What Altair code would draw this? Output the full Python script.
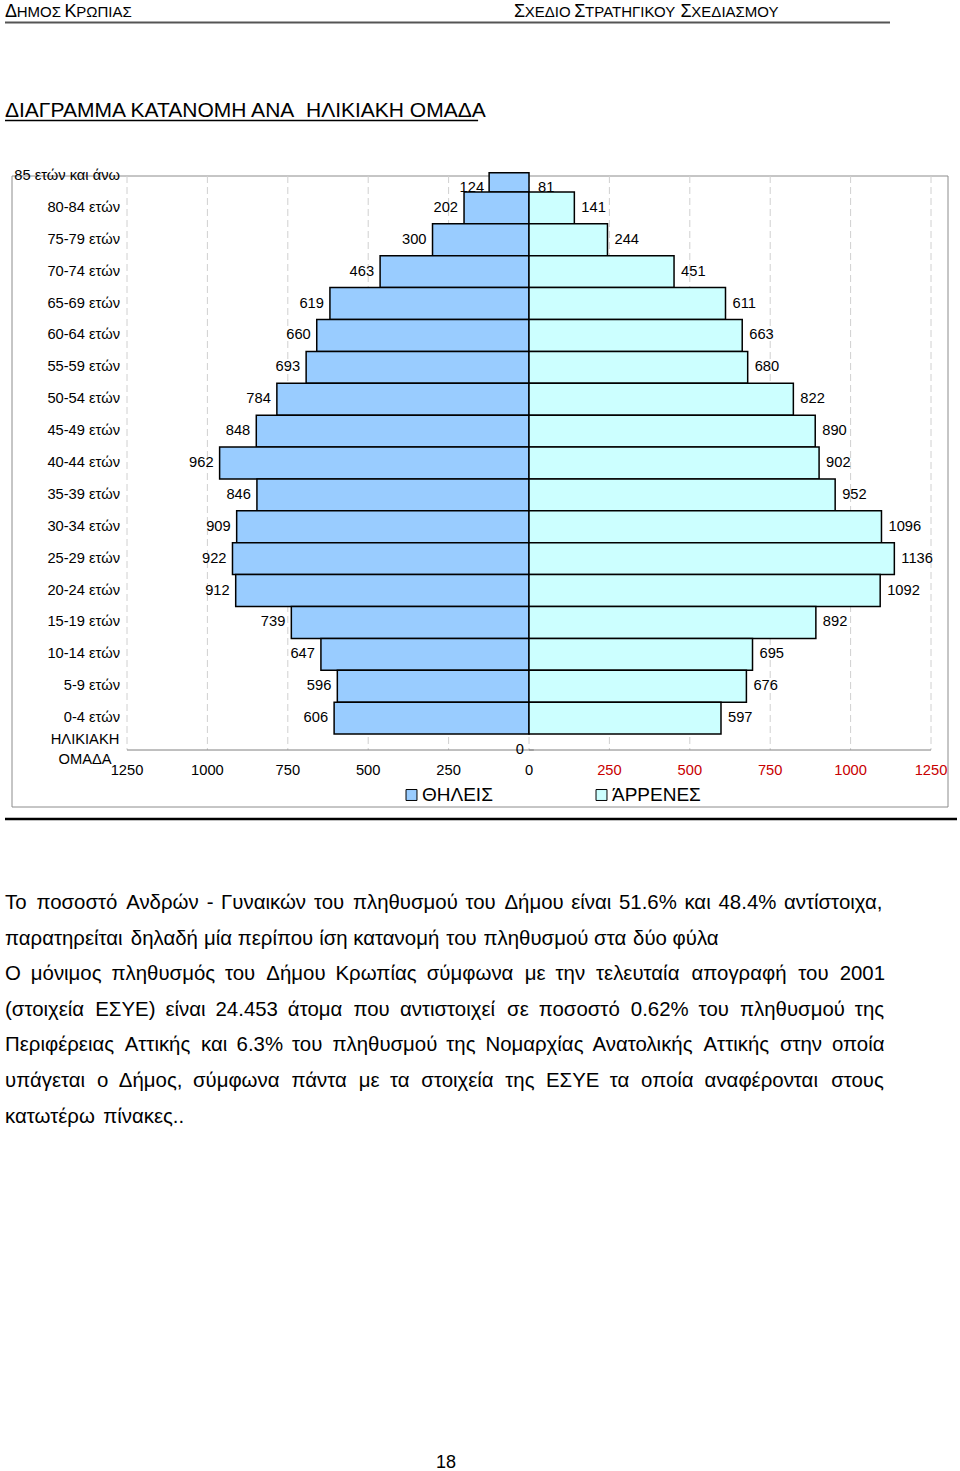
import altair as alt
import pandas as pd

# ---------------- data ----------------
age_groups = ["85 ετών και άνω", "80-84 ετών", "75-79 ετών", "70-74 ετών", "65-69 ετών",
              "60-64 ετών", "55-59 ετών", "50-54 ετών", "45-49 ετών", "40-44 ετών",
              "35-39 ετών", "30-34 ετών", "25-29 ετών", "20-24 ετών", "15-19 ετών",
              "10-14 ετών", "5-9 ετών", "0-4 ετών"]
female = [124, 202, 300, 463, 619, 660, 693, 784, 848, 962, 846, 909, 922, 912, 739, 647, 596, 606]
male = [81, 141, 244, 451, 611, 663, 680, 822, 890, 902, 952, 1096, 1136, 1092, 892, 695, 676, 597]
axis_title = "ΗΛΙΚΙΑΚΗ\nΟΜΑΔΑ"
base_value = 0
x_ticks = [-1250, -1000, -750, -500, -250, 0, 250, 500, 750, 1000, 1250]
legend_labels = ["ΘΗΛΕΙΣ", "ΆΡΡΕΝΕΣ"]
bar_colors = ["#99CCFF", "#CCFFFF"]

header_left = "ΔΗΜΟΣ ΚΡΩΠΙΑΣ"
header_right = "ΣΧΕΔΙΟ ΣΤΡΑΤΗΓΙΚΟΥ ΣΧΕΔΙΑΣΜΟΥ"
title_text = "ΔΙΑΓΡΑΜΜΑ ΚΑΤΑΝΟΜΗ ΑΝΑ\u00a0 ΗΛΙΚΙΑΚΗ ΟΜΑΔΑ"
body_lines = [
    "Το ποσοστό Ανδρών - Γυναικών του πληθυσμού του Δήμου είναι 51.6% και 48.4% αντίστοιχα,",
    "παρατηρείται δηλαδή μία περίπου ίση κατανομή του πληθυσμού στα δύο φύλα",
    "Ο μόνιμος πληθυσμός του Δήμου Κρωπίας σύμφωνα με την τελευταία απογραφή του 2001",
    "(στοιχεία ΕΣΥΕ) είναι 24.453 άτομα που αντιστοιχεί σε ποσοστό 0.62% του πληθυσμού της",
    "Περιφέρειας Αττικής και 6.3% του πληθυσμού της Νομαρχίας Ανατολικής Αττικής στην οποία",
    "υπάγεται ο Δήμος, σύμφωνα πάντα με τα στοιχεία της ΕΣΥΕ τα οποία αναφέρονται στους",
    "κατωτέρω πίνακες..",
]
justified = [True, False, True, True, True, True, False]
page_number = "18"

# ---------------- layout helpers ----------------
FONT = "Liberation Sans"
CFS = 14.7                 # chart text size
PL, PT = 127, 176          # plot origin on the page
W, H = 804, 574            # plot size
PAGE_W, PAGE_H = 960, 1471


def px(x):
    return x - PL


def py(y):
    return y - PT


AR = {' ': .278, '\u00a0': .278, ',': .278, '.': .278, '-': .333, '%': .889, '(': .333, ')': .333,
      'Α': .667, 'Ά': .70, 'Β': .667, 'Γ': .551, 'Δ': .668, 'Ε': .667, 'Ζ': .611, 'Η': .722,
      'Θ': .778, 'Ι': .278, 'Κ': .667, 'Λ': .667, 'Μ': .833, 'Ν': .722, 'Ξ': .646, 'Ο': .778,
      'Π': .722, 'Ρ': .667, 'Σ': .618, 'Τ': .611, 'Υ': .667, 'Φ': .797, 'Χ': .667, 'Ψ': .835,
      'Ω': .748,
      'α': .578, 'ά': .578, 'β': .575, 'γ': .500, 'δ': .557, 'ε': .446, 'έ': .446, 'ζ': .441,
      'η': .557, 'ή': .557, 'θ': .556, 'ι': .222, 'ί': .222, 'κ': .500, 'λ': .500, 'μ': .576,
      'ν': .500, 'ξ': .449, 'ο': .556, 'ό': .556, 'π': .688, 'ρ': .571, 'σ': .617, 'ς': .482,
      'τ': .439, 'υ': .546, 'ύ': .546, 'φ': .721, 'χ': .524, 'ψ': .712, 'ω': .780, 'ώ': .780}


def tw(s, size):
    return sum(AR.get(c, .556) for c in s) * size


one = pd.DataFrame({"a": [0]})
n = len(age_groups)
df = pd.DataFrame({"group": age_groups, "idx": [n - i for i in range(n)],
                   "female": female, "male": male})
ticks_df = pd.DataFrame({"v": x_ticks})

xs = alt.Scale(domain=[min(x_ticks), max(x_ticks)], nice=False, zero=False)
ys = alt.Scale(domain=[0, n], nice=False, zero=False)


def page_text(text, x, y, size, align="left", baseline="alphabetic"):
    return alt.Chart(one).mark_text(align=align, baseline=baseline, font=FONT, fontSize=size,
                                    color="black", text=text).encode(
        x=alt.value(px(x)), y=alt.value(py(y)))


layers = []

# outer chart frame
layers.append(alt.Chart(one).mark_rect(fill="white", fillOpacity=0, stroke="#8C8C8C", strokeWidth=1).encode(
    x=alt.value(px(12)), x2=alt.value(px(948)), y=alt.value(0), y2=alt.value(py(807))))

# dashed vertical grid
layers.append(alt.Chart(ticks_df).mark_rule(color="#D0D0D0", strokeDash=[7, 4], strokeWidth=1).encode(
    x=alt.X("v:Q", scale=xs, axis=None), y=alt.value(0), y2=alt.value(H)))

# x axis line
layers.append(alt.Chart(ticks_df).transform_aggregate(lo="min(v)", hi="max(v)").mark_rule(
    color="#808080", strokeWidth=1).encode(
    x=alt.X("lo:Q", scale=xs, axis=None), x2="hi:Q", y=alt.value(H)))

# x tick labels: black on the female side, red on the male side
layers.append(alt.Chart(ticks_df).transform_filter("datum.v <= 0").transform_calculate(
    lab="abs(datum.v)").mark_text(align="center", baseline="middle", font=FONT, fontSize=CFS,
                                  color="black").encode(
    x=alt.X("v:Q", scale=xs, axis=None), y=alt.value(py(771)), text="lab:Q"))
layers.append(alt.Chart(ticks_df).transform_filter("datum.v > 0").mark_text(
    align="center", baseline="middle", font=FONT, fontSize=CFS, color="#C80000").encode(
    x=alt.X("v:Q", scale=xs, axis=None), y=alt.value(py(771)), text="v:Q"))

# small ticks on the central category axis
layers.append(alt.Chart(pd.DataFrame({"idx": list(range(n))})).transform_calculate(
    z="0", t="15").mark_rule(color="#808080").encode(
    x=alt.X("z:Q", scale=xs, axis=None), x2="t:Q", y=alt.Y("idx:Q", scale=ys, axis=None)))

# female bars
layers.append(alt.Chart(df).transform_calculate(
    nf="-datum.female", z="0", lo="datum.idx - 0.5", hi=f"min(datum.idx + 0.5, {n} + 0.1)"
).mark_rect(fill=bar_colors[0], stroke="black", strokeWidth=1.5).encode(
    x=alt.X("nf:Q", scale=xs, axis=None), x2="z:Q",
    y=alt.Y("lo:Q", scale=ys, axis=None), y2="hi:Q"))

# male bars
layers.append(alt.Chart(df).transform_filter(f"datum.idx < {n}").transform_calculate(
    z="0", lo="datum.idx - 0.5", hi="datum.idx + 0.5"
).mark_rect(fill=bar_colors[1], stroke="black", strokeWidth=1.5).encode(
    x=alt.X("z:Q", scale=xs, axis=None), x2="male:Q",
    y=alt.Y("lo:Q", scale=ys, axis=None), y2="hi:Q"))

# value labels
layers.append(alt.Chart(df).transform_filter(f"datum.idx < {n}").transform_calculate(
    nf="-datum.female").mark_text(align="right", baseline="middle", dx=-6, font=FONT, fontSize=CFS,
                                   color="black").encode(
    x=alt.X("nf:Q", scale=xs, axis=None), y=alt.Y("idx:Q", scale=ys, axis=None), text="female:Q"))
layers.append(alt.Chart(df).transform_filter(f"datum.idx == {n}").transform_calculate(
    nf="-datum.female").mark_text(align="right", baseline="middle", dx=-5, dy=12, font=FONT,
                                   fontSize=CFS, color="black").encode(
    x=alt.X("nf:Q", scale=xs, axis=None), y=alt.Y("idx:Q", scale=ys, axis=None), text="female:Q"))
layers.append(alt.Chart(df).transform_filter(f"datum.idx < {n}").mark_text(
    align="left", baseline="middle", dx=7, font=FONT, fontSize=CFS, color="black").encode(
    x=alt.X("male:Q", scale=xs, axis=None), y=alt.Y("idx:Q", scale=ys, axis=None), text="male:Q"))
layers.append(alt.Chart(df).transform_filter(f"datum.idx == {n}").transform_calculate(
    z="0").mark_text(align="left", baseline="middle", dx=9, dy=12, font=FONT, fontSize=CFS,
                     color="black").encode(
    x=alt.X("z:Q", scale=xs, axis=None), y=alt.Y("idx:Q", scale=ys, axis=None), text="male:Q"))
layers.append(alt.Chart(pd.DataFrame({"idx": [0], "v": [base_value]})).transform_calculate(
    nv="-datum.v").mark_text(align="right", baseline="middle", dx=-5, font=FONT, fontSize=CFS,
                             color="black").encode(
    x=alt.X("nv:Q", scale=xs, axis=None), y=alt.Y("idx:Q", scale=ys, axis=None), text="v:Q"))

# category labels
layers.append(alt.Chart(df).mark_text(align="right", baseline="middle", font=FONT, fontSize=CFS,
                                      color="black").encode(
    x=alt.value(px(120)), y=alt.Y("idx:Q", scale=ys, axis=None), text="group:N"))
layers.append(alt.Chart(pd.DataFrame({"idx": [0], "t": [axis_title]})).mark_text(
    align="center", baseline="middle", lineBreak="\n", lineHeight=20, dy=-10, font=FONT, fontSize=CFS,
    color="black").encode(
    x=alt.value(px(85)), y=alt.Y("idx:Q", scale=ys, axis=None), text="t:N"))

# legend
leg_sq_x = [411.5, 601.5]
for lab, col, sx in zip(legend_labels, bar_colors, leg_sq_x):
    layers.append(alt.Chart(one).mark_square(size=120, fill=col, fillOpacity=1, stroke="black",
                                             strokeWidth=1).encode(
        x=alt.value(px(sx)), y=alt.value(py(795))))
    layers.append(page_text(lab, sx + 10.5, 795, 19, baseline="middle"))

# ---------------- page elements ----------------
# header (small caps)
def small_caps_layers(text, x0, base_y, big=18, small=15):
    out = []
    x = x0
    for wi, word in enumerate(text.split(" ")):
        if wi > 0:
            x += AR[' '] * big
        first, rest = word[0], word[1:]
        out.append(page_text(first, x, base_y, big))
        x += tw(first, big) * 0.97
        if rest:
            out.append(page_text(rest, x, base_y, small))
            x += tw(rest, small) * 0.97
    return out


layers += small_caps_layers(header_left, 5, 17)
layers += small_caps_layers(header_right, 514, 17)
layers.append(alt.Chart(one).mark_rule(color="#555555", strokeWidth=2).encode(
    x=alt.value(px(5)), x2=alt.value(px(890)), y=alt.value(py(22.5))))

# title with underline
TFS = 21
layers.append(page_text(title_text, 5, 117, TFS))
layers.append(alt.Chart(one).mark_rule(color="black", strokeWidth=1.5).encode(
    x=alt.value(px(5)), x2=alt.value(px(5 + tw(title_text, TFS) * 0.97)), y=alt.value(py(120.5))))

# separator under the chart
layers.append(alt.Chart(one).mark_rule(color="black", strokeWidth=2.5).encode(
    x=alt.value(px(5)), x2=alt.value(px(957)), y=alt.value(py(819))))

# body paragraph (justified lines, one text mark per word)
BFS = 20.4
line_y = [903, 939, 974, 1010, 1045, 1081, 1117]
for line, just, yy in zip(body_lines, justified, line_y):
    words = line.split(" ")
    widths = [tw(w, BFS) for w in words]
    if just and len(words) > 1:
        gap = (880 - sum(widths)) / (len(words) - 1)
        gap = max(gap, AR[' '] * BFS * 0.6)
    else:
        gap = AR[' '] * BFS
    x = 5
    for w, wd in zip(words, widths):
        layers.append(page_text(w, x, yy, BFS, baseline="middle"))
        x += wd + gap

# page number
layers.append(page_text(page_number, 446, 1463, 18, align="center", baseline="middle"))

chart = alt.layer(*layers).properties(
    width=W, height=H,
    autosize=alt.AutoSizeParams(type="none"),
    padding={"left": PL, "top": PT, "right": PAGE_W - PL - W, "bottom": PAGE_H - PT - H},
    background="white",
).configure_view(strokeWidth=0)

chart.save("out.html", embed_options={"renderer": "svg", "actions": False})
